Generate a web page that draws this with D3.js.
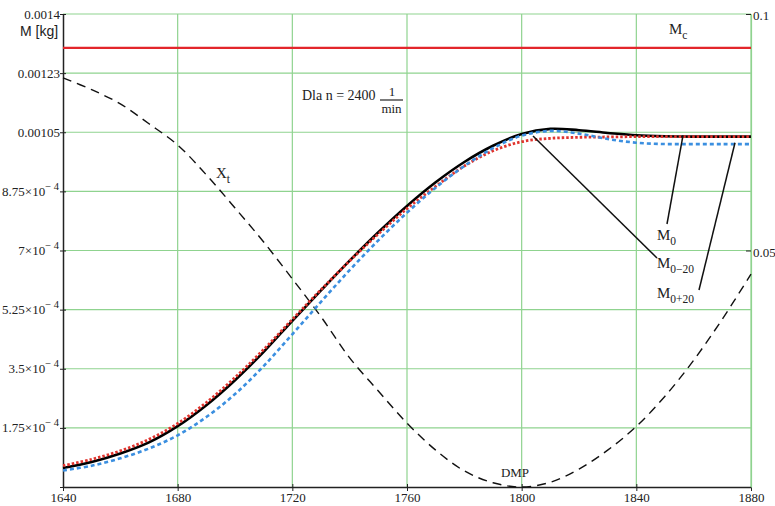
<!DOCTYPE html>
<html>
<head>
<meta charset="utf-8">
<script src="https://cdn.jsdelivr.net/npm/d3@7"></script>
<style>
  body { margin: 0; background: #fff; }
  svg { display: block; }
  .serif { font-family: "Liberation Serif", "DejaVu Serif", serif; fill: #222; }
</style>
</head>
<body>
<svg id="chart" width="775" height="506"></svg>
<script>
// years on the x axis
const years = [1640, 1650, 1660, 1670, 1680, 1690, 1700, 1710, 1720, 1730, 1740, 1750, 1760,
               1770, 1780, 1790, 1800, 1810, 1820, 1830, 1840, 1850, 1860, 1870, 1880];

// M0 (black, solid) [kg]
const m0 = [5.6e-5, 7.4e-5, 9.9e-5, 1.32e-4, 1.80e-4, 2.42e-4, 3.16e-4, 4.00e-4, 4.92e-4, 5.82e-4,
            6.70e-4, 7.54e-4, 8.32e-4, 9.02e-4, 9.62e-4, 1.010e-3, 1.045e-3, 1.060e-3, 1.056e-3,
            1.048e-3, 1.041e-3, 1.038e-3, 1.037e-3, 1.037e-3, 1.037e-3];
// M0-20 (red, dotted)
const m0minus20 = [6.3e-5, 8.2e-5, 1.07e-4, 1.41e-4, 1.88e-4, 2.50e-4, 3.24e-4, 4.07e-4, 4.96e-4, 5.84e-4,
                   6.69e-4, 7.49e-4, 8.24e-4, 8.90e-4, 9.50e-4, 9.95e-4, 1.022e-3, 1.032e-3, 1.035e-3,
                   1.036e-3, 1.037e-3, 1.037e-3, 1.037e-3, 1.037e-3, 1.037e-3];
// M0+20 (blue, dashed)
const m0plus20 = [4.9e-5, 6.3e-5, 8.5e-5, 1.14e-4, 1.53e-4, 2.07e-4, 2.75e-4, 3.58e-4, 4.52e-4, 5.48e-4,
                  6.42e-4, 7.30e-4, 8.12e-4, 8.86e-4, 9.50e-4, 1.003e-3, 1.040e-3, 1.054e-3, 1.046e-3,
                  1.030e-3, 1.019e-3, 1.015e-3, 1.015e-3, 1.015e-3, 1.015e-3];
// Xt (black dashed, right axis)
const xt = [0.0865, 0.0840, 0.0810, 0.0768, 0.0723, 0.0660, 0.0590, 0.0518, 0.0440, 0.0360,
            0.0273, 0.0203, 0.0135, 0.0078, 0.0034, 0.0009, 0.0, 0.0010, 0.0038, 0.0078,
            0.0128, 0.0192, 0.0268, 0.0355, 0.0450];
// Mc constant
const mc = 0.0013;

const xTicks = [1640, 1680, 1720, 1760, 1800, 1840, 1880];
const yTicks = [0, 1.75e-4, 3.5e-4, 5.25e-4, 7e-4, 8.75e-4, 1.05e-3, 1.225e-3, 1.4e-3];
const yTickLabels = ["", "1.75×10^− 4", "3.5×10^− 4", "5.25×10^− 4", "7×10^− 4", "8.75×10^− 4",
                     "0.00105", "0.00123", "0.0014"];
const y2Ticks = [0, 0.05, 0.1];
const y2TickLabels = ["", "0.05", "0.1"];

const svg = d3.select("#chart");
const plotLeft = 63, plotRight = 751, plotTop = 14, plotBottom = 487;

const x = d3.scaleLinear().domain([1640, 1880]).range([plotLeft, plotRight]);
const y = d3.scaleLinear().domain([0, 0.0014]).range([plotBottom, plotTop]);
const y2 = d3.scaleLinear().domain([0, 0.1]).range([plotBottom, plotTop]);

const green = "#8fd38f";

// grid
svg.append("g")
  .selectAll("line")
  .data(xTicks.slice(1))
  .join("line")
    .attr("x1", d => x(d)).attr("x2", d => x(d))
    .attr("y1", plotTop).attr("y2", plotBottom)
    .attr("stroke", green).attr("stroke-width", 1.2);
svg.append("g")
  .selectAll("line")
  .data(yTicks.slice(1))
  .join("line")
    .attr("x1", plotLeft).attr("x2", plotRight)
    .attr("y1", d => y(d)).attr("y2", d => y(d))
    .attr("stroke", green).attr("stroke-width", 1.2);

// bottom axis
const xAxis = svg.append("g")
  .attr("transform", "translate(0," + plotBottom + ")")
  .call(d3.axisBottom(x).tickValues(xTicks).tickSize(4).tickSizeOuter(0).tickFormat(d3.format("d")));
xAxis.select(".domain").attr("stroke", "#222").attr("stroke-width", 1.5);
xAxis.selectAll(".tick line").attr("stroke", "#222").attr("y1", -3);
xAxis.selectAll(".tick text")
  .attr("class", "serif").attr("font-size", 13).attr("dy", null).attr("y", 15);

// left axis
const yAxis = svg.append("g")
  .attr("transform", "translate(" + plotLeft + ",0)")
  .call(d3.axisLeft(y).tickValues(yTicks).tickSize(4).tickSizeOuter(0).tickFormat(""));
yAxis.select(".domain").attr("stroke", "#222").attr("stroke-width", 1.5);
yAxis.selectAll(".tick line").attr("stroke", "#222").attr("x2", 3).attr("x1", -3);
yAxis.selectAll(".tick").each(function (d, i) {
  const parts = yTickLabels[i].split("^");
  const t = d3.select(this).append("text")
    .attr("class", "serif")
    .attr("font-size", 13)
    .attr("text-anchor", "end")
    .attr("x", parts.length > 1 ? -4 : -3)
    .attr("y", 4);
  t.append("tspan").text(parts[0]);
  if (parts.length > 1) {
    t.append("tspan").attr("font-size", 10.5).attr("dy", -6).text(parts[1]);
  }
});

// right axis (ticks point inward)
const y2Axis = svg.append("g")
  .attr("transform", "translate(" + plotRight + ",0)")
  .call(d3.axisRight(y2).tickValues(y2Ticks).tickSize(-5).tickSizeOuter(0).tickFormat((d, i) => y2TickLabels[i]));
y2Axis.select(".domain").attr("stroke", green).attr("stroke-width", 1.2);
y2Axis.selectAll(".tick line").attr("stroke", "#222");
y2Axis.selectAll(".tick text").attr("class", "serif").attr("font-size", 13).attr("x", 2).attr("dy", "0.45em");

// axis title
svg.append("text")
  .attr("x", 20).attr("y", 36)
  .attr("font-family", "Liberation Sans, Arial, sans-serif")
  .attr("font-size", 14).attr("fill", "#222")
  .text("M [kg]");

// Mc line
svg.append("line")
  .attr("x1", plotLeft).attr("x2", plotRight)
  .attr("y1", y(mc)).attr("y2", y(mc))
  .attr("stroke", "#e3262b").attr("stroke-width", 2.2);

const idx = d3.range(years.length);
const line = (arr, scale) => d3.line()
  .x(i => x(years[i]))
  .y(i => scale(arr[i]))
  .curve(d3.curveCatmullRom)(idx);

// Xt
svg.append("path")
  .attr("d", line(xt, y2))
  .attr("fill", "none").attr("stroke", "#111").attr("stroke-width", 1.4)
  .attr("stroke-dasharray", "9,6");

// M0
svg.append("path")
  .attr("d", line(m0, y))
  .attr("fill", "none").attr("stroke", "#000").attr("stroke-width", 2.6);
// M0-20
svg.append("path")
  .attr("d", line(m0minus20, y))
  .attr("fill", "none").attr("stroke", "#e0342e").attr("stroke-width", 2.8)
  .attr("stroke-dasharray", "2.5,2");
// M0+20
svg.append("path")
  .attr("d", line(m0plus20, y))
  .attr("fill", "none").attr("stroke", "#3b8fe0").attr("stroke-width", 2.6)
  .attr("stroke-dasharray", "4,3");

// leader lines
const leaders = [
  [683, y(m0[20]), 667, 224],
  [533, y(m0[16]) + 2, 657, 258],
  [735, y(m0plus20[20]), 699, 290]
];
svg.append("g").selectAll("line")
  .data(leaders)
  .join("line")
    .attr("x1", d => d[0]).attr("y1", d => d[1])
    .attr("x2", d => d[2]).attr("y2", d => d[3])
    .attr("stroke", "#111").attr("stroke-width", 1.5);

// labels with subscripts
function subLabel(xp, yp, main, sub) {
  const t = svg.append("text").attr("class", "serif").attr("x", xp).attr("y", yp).attr("font-size", 15);
  t.append("tspan").text(main);
  t.append("tspan").attr("font-size", 11.5).attr("dy", 5).text(sub);
}
subLabel(669, 34, "M", "c");
subLabel(657, 240, "M", "0");
subLabel(657, 268, "M", "0−20");
subLabel(657, 298, "M", "0+20");
subLabel(216, 178, "X", "t");

svg.append("text").attr("class", "serif")
  .attr("x", 515).attr("y", 477).attr("text-anchor", "middle").attr("font-size", 13)
  .text("DMP");

// Dla n = 2400 1/min
svg.append("text").attr("class", "serif")
  .attr("x", 302).attr("y", 100).attr("font-size", 14)
  .text("Dla  n = 2400");
svg.append("text").attr("class", "serif")
  .attr("x", 392).attr("y", 96).attr("font-size", 13).attr("text-anchor", "middle")
  .text("1");
svg.append("line")
  .attr("x1", 380).attr("x2", 403).attr("y1", 100).attr("y2", 100)
  .attr("stroke", "#222").attr("stroke-width", 1.2);
svg.append("text").attr("class", "serif")
  .attr("x", 391.5).attr("y", 113).attr("font-size", 13).attr("text-anchor", "middle")
  .text("min");
</script>
</body>
</html>
